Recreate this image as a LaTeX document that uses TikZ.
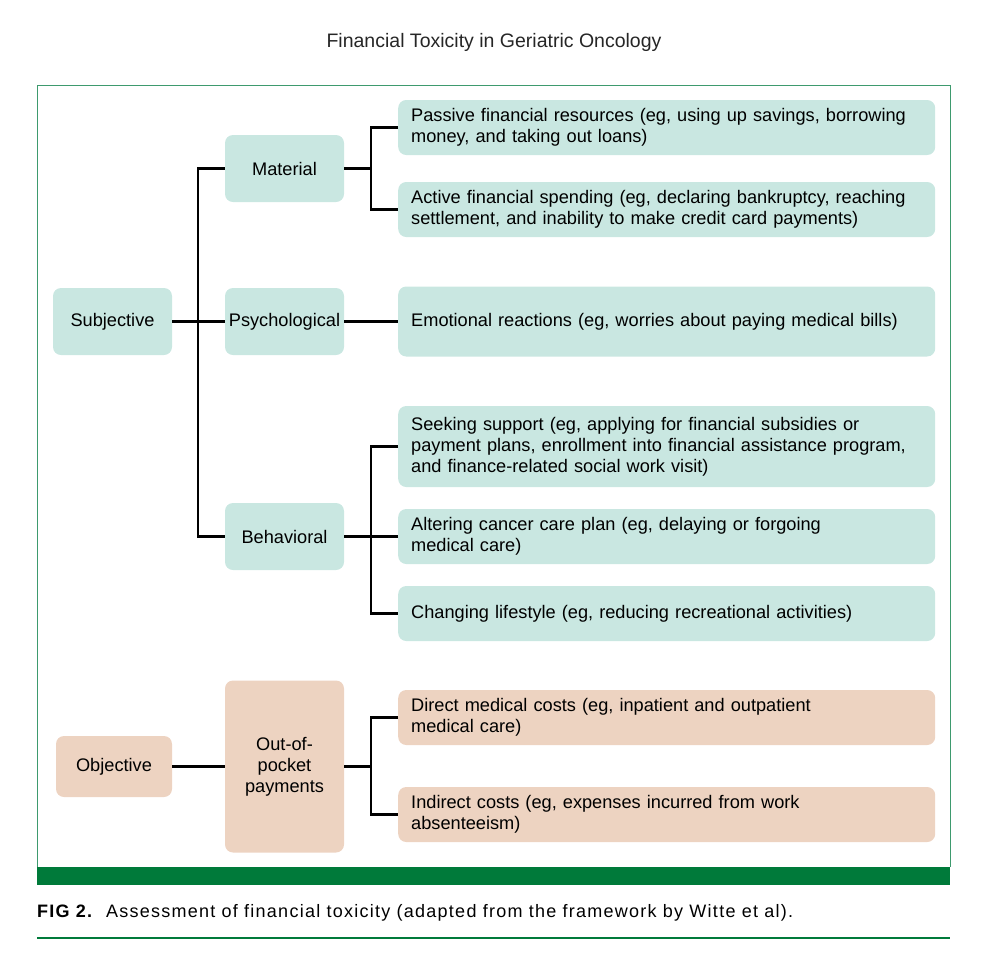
\documentclass[tikz,border=0pt]{standalone}
\usepackage{fontspec}
\setmainfont{Liberation Sans}
\usepackage{xcolor}
\usepackage{tikz}
\usetikzlibrary{
  positioning,
  calc}
\definecolor{subjteal}{HTML}{C9E7E1}
\definecolor{objtan}{HTML}{EDD3C1}
\definecolor{framegreen}{HTML}{3E9A6E}
\definecolor{bandgreen}{HTML}{007A3A}
\tikzset{every picture/.style={font issue=\fontsize{18.2}{21}},
         font issue/.style={execute at begin picture={#1\selectfont}}
        }
\tikzset{
  catbox/.style={rounded corners=8pt, minimum width=119pt, minimum height=67pt,
                 align=center, inner sep=0pt},
  itembox/.style={rounded corners=8pt, minimum height=55pt, anchor=west,
                  align=left, inner xsep=13pt, inner ysep=6pt, text width=511pt},
  subj/.style={fill=subjteal},
  obj/.style={fill=objtan},
  branch/.style={line width=2.4pt, line join=miter}
}

\begin{document}
\begin{tikzpicture}[x=1pt, y=-1pt]
\useasboundingbox (0,0) rectangle (988,967);

%Title and frame
\node[font=\fontsize{19.5}{23}\selectfont\color{black!85}] (title) at (494,42) {Financial Toxicity in Geriatric Oncology};
\draw[framegreen, line width=1pt] (37,867) -- (37,85) -- (950,85) -- (950,867);
\fill[bandgreen] (37,867) rectangle (950,885);
\node[anchor=west, inner sep=0pt, font=\fontsize{18}{21}\selectfont\addfontfeature{LetterSpace=7}] (caption) at (37,913)
  {\textbf{FIG 2.}\ \ Assessment of financial toxicity (adapted from the framework by Witte et al).};
\draw[bandgreen, line width=2pt] (37,938) -- (950,938);

%Subjective part
\node[catbox, subj] (subjective) at (112.5,321.5) {Subjective};
\node[catbox, subj] (material) at (284.5,168.5) {Material};
\node[catbox, subj] (psychological) at (284.5,321.5) {Psychological};
\node[catbox, subj] (behavioral) at (284.5,536.5) {Behavioral};

\node[itembox, subj] (passive) at (398,127.5)
  {Passive financial resources (eg, using up savings, borrowing\\money, and taking out loans)};
\node[itembox, subj] (active) at (398,209.5)
  {Active financial spending (eg, declaring bankruptcy, reaching\\settlement, and inability to make credit card payments)};
\node[itembox, subj, minimum height=70pt] (emotional) at (398,321.5)
  {Emotional reactions (eg, worries about paying medical bills)};
\node[itembox, subj, minimum height=81pt] (seeking) at (398,446.5)
  {Seeking support (eg, applying for financial subsidies or\\payment plans, enrollment into financial assistance program,\\and finance-related social work visit)};
\node[itembox, subj] (altering) at (398,536.5)
  {Altering cancer care plan (eg, delaying or forgoing\\medical care)};
\node[itembox, subj] (lifestyle) at (398,613.5)
  {Changing lifestyle (eg, reducing recreational activities)};

%Objective part
\node[catbox, obj, minimum width=116pt, minimum height=61pt] (objective) at (114,766.5) {Objective};
\node[catbox, obj, minimum height=172pt] (outofpocket) at (284.5,766.5) {Out-of-\\pocket\\payments};
\node[itembox, obj] (direct) at (398,717.5)
  {Direct medical costs (eg, inpatient and outpatient\\medical care)};
\node[itembox, obj] (indirect) at (398,814.5)
  {Indirect costs (eg, expenses incurred from work\\absenteeism)};

%Connectors
\coordinate (jS) at (198,0);
\coordinate (jM) at (371,0);
\draw[branch] (subjective.east) -- (psychological.west);
\draw[branch] (material.west) -- (jS |- material) -- (jS |- behavioral) -- (behavioral.west);

\draw[branch] (material.east) -- (jM |- material);
\draw[branch] (passive.west) -- (jM |- passive) -- (jM |- active) -- (active.west);

\draw[branch] (psychological.east) -- (emotional.west);

\draw[branch] (behavioral.east) -- (jM |- behavioral);
\draw[branch] (seeking.west) -- (jM |- seeking) -- (jM |- lifestyle) -- (lifestyle.west);
\draw[branch] (altering.west) -- (jM |- altering);

\draw[branch] (objective.east) -- (outofpocket.west);
\draw[branch] (outofpocket.east) -- (jM |- outofpocket);
\draw[branch] (direct.west) -- (jM |- direct) -- (jM |- indirect) -- (indirect.west);
\end{tikzpicture}
\end{document}
